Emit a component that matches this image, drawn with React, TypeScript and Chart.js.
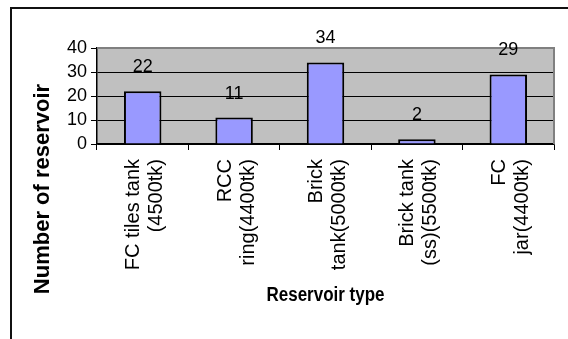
import { useEffect, useRef } from 'react';
import { Chart, registerables } from 'chart.js';

Chart.register(...registerables);

// Reservoir categories (two-line labels) and counts
const categories: string[][] = [
  ['FC tiles tank', '(4500tk)'],
  ['RCC', 'ring(4400tk)'],
  ['Brick', 'tank(5000tk)'],
  ['Brick tank', '(ss)(5500tk)'],
  ['FC', 'jar(4400tk)'],
];
const reservoirCounts = [22, 11, 34, 2, 29];
const yTicks = [0, 10, 20, 30, 40];
const yTitle = 'Number of reservoir';
const xTitle = 'Reservoir type';

const FONT = "'Liberation Sans', Arial, sans-serif";

const decor = {
  id: 'decor',
  beforeDraw(chart: any) {
    const { ctx, chartArea: a, width, height } = chart;
    ctx.save();
    ctx.fillStyle = '#ffffff';
    ctx.fillRect(0, 0, width, height);
    ctx.fillStyle = '#C0C0C0';
    ctx.fillRect(a.left, a.top, a.right - a.left, a.bottom - a.top);
    // outer frame (left and top edges)
    ctx.strokeStyle = '#111111';
    ctx.lineWidth = 2;
    ctx.beginPath();
    ctx.moveTo(11, height);
    ctx.lineTo(11, 8);
    ctx.lineTo(width, 8);
    ctx.stroke();
    ctx.restore();
  },
  beforeDatasetsDraw(chart: any) {
    const { ctx, chartArea: a } = chart;
    ctx.save();
    ctx.strokeStyle = '#808080';
    ctx.lineWidth = 2;
    ctx.beginPath();
    ctx.moveTo(a.left, a.top);
    ctx.lineTo(a.right, a.top);
    ctx.lineTo(a.right, a.bottom);
    ctx.stroke();
    ctx.restore();
  },
  afterDatasetsDraw(chart: any) {
    const { ctx } = chart;
    const meta = chart.getDatasetMeta(0);
    const values = chart.data.datasets[0].data as number[];
    ctx.save();
    ctx.fillStyle = '#000';
    ctx.font = `18px ${FONT}`;
    ctx.textAlign = 'center';
    ctx.textBaseline = 'middle';
    meta.data.forEach((bar: any, i: number) => {
      ctx.fillText(String(values[i]), bar.x, bar.y - 24);
    });
    ctx.restore();
  },
  afterDraw(chart: any) {
    const { ctx, chartArea: a } = chart;
    ctx.save();
    ctx.fillStyle = '#000';
    ctx.textAlign = 'center';
    ctx.textBaseline = 'middle';
    // condensed bold axis title under the categories
    ctx.save();
    ctx.translate((a.left + a.right) / 2, 295);
    ctx.scale(0.85, 1);
    ctx.font = `bold 20px ${FONT}`;
    ctx.fillText(xTitle, 0, 0);
    ctx.restore();
    ctx.translate(43, 189);
    ctx.rotate(-Math.PI / 2);
    ctx.font = `bold 22px ${FONT}`;
    ctx.fillText(yTitle, 0, 0);
    ctx.restore();
  },
};

export default function App() {
  const canvasRef = useRef<HTMLCanvasElement>(null);

  useEffect(() => {
    const canvas = canvasRef.current;
    if (!canvas) return;
    const chart = new Chart(canvas, {
      type: 'bar',
      data: {
        labels: categories,
        datasets: [
          {
            data: reservoirCounts,
            backgroundColor: '#9999FF',
            borderColor: '#000000',
            borderWidth: 2,
            barPercentage: 0.41,
            categoryPercentage: 1,
          },
        ],
      },
      options: {
        responsive: false,
        animation: false,
        devicePixelRatio: 1,
        layout: { padding: { top: 48, right: 14, left: 0, bottom: 0 } },
        plugins: {
          legend: { display: false },
          tooltip: { enabled: false },
          title: { display: false },
        },
        scales: {
          x: {
            afterFit(scale: any) {
              scale.height = 195;
            },
            grid: {
              offset: true,
              drawOnChartArea: false,
              drawTicks: true,
              tickLength: 6,
              color: '#000',
              tickColor: '#000',
            },
            border: { color: '#000', width: 1.5 },
            ticks: {
              minRotation: 90,
              maxRotation: 90,
              autoSkip: false,
              padding: 9,
              labelOffset: -9,
              color: '#000',
              font: { size: 20, family: FONT, lineHeight: 1.15 },
            },
          },
          y: {
            min: 0,
            max: 40,
            afterFit(scale: any) {
              scale.width = 97;
            },
            afterBuildTicks(scale: any) {
              scale.ticks = yTicks.map((v) => ({ value: v }));
            },
            grid: {
              color: (c: any) => (c.tick && c.tick.value === 40 ? '#808080' : '#000'),
              tickColor: '#000',
              tickLength: 6,
              lineWidth: 1,
            },
            border: { color: '#000', width: 1.5 },
            ticks: {
              autoSkip: false,
              padding: 4,
              color: '#000',
              font: { size: 18, family: FONT, lineHeight: 1 },
            },
          },
        },
      },
      plugins: [decor],
    });
    return () => chart.destroy();
  }, []);

  return (
    <canvas
      ref={canvasRef}
      width={568}
      height={339}
      style={{ position: 'absolute', left: 0, top: 0, width: 568, height: 339 }}
    />
  );
}
